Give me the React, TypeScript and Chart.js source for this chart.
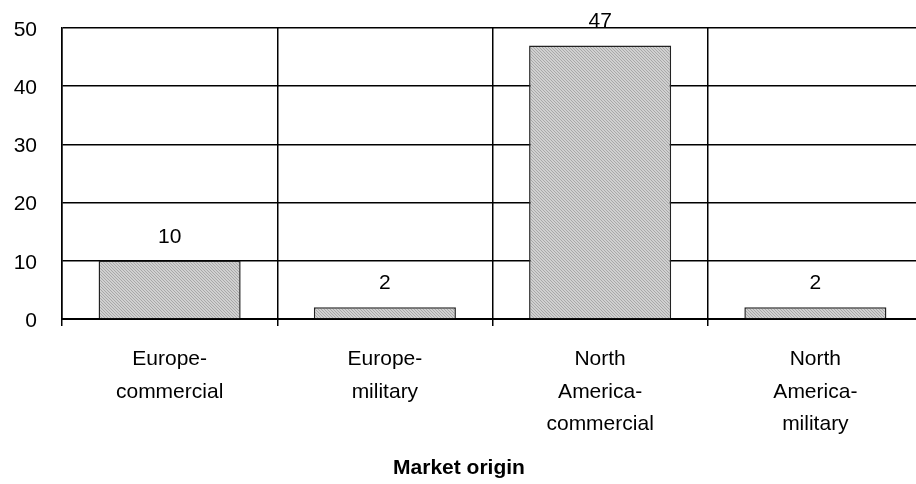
import React, { useEffect, useRef } from "react";
import { Chart, registerables } from "chart.js";

Chart.register(...registerables);

const categories: string[][] = [
  ["Europe-", "commercial"],
  ["Europe-", "military"],
  ["North", "America-", "commercial"],
  ["North", "America-", "military"],
];
const values: number[] = [10, 2, 47, 2];
const yTicks: number[] = [0, 10, 20, 30, 40, 50];
const axisTitle = "Market origin";

const FONT = "'Liberation Sans', Arial, Helvetica, sans-serif";

function makePattern(): CanvasPattern | string {
  const c = document.createElement("canvas");
  c.width = 3;
  c.height = 3;
  const g = c.getContext("2d");
  if (!g) return "#c0c0c0";
  g.fillStyle = "#d0d0d0";
  g.fillRect(0, 0, 3, 3);
  g.fillStyle = "#a8a8a8";
  for (let i = 0; i < 3; i++) {
    g.fillRect(i, i, 1, 1);
  }
  const p = g.createPattern(c, "repeat");
  return p || "#c0c0c0";
}

const valueLabels = {
  id: "valueLabels",
  afterDatasetsDraw(chart: any) {
    const ctx = chart.ctx;
    const meta = chart.getDatasetMeta(0);
    ctx.save();
    ctx.font = `21px ${FONT}`;
    ctx.fillStyle = "#000";
    ctx.textAlign = "center";
    ctx.textBaseline = "middle";
    meta.data.forEach((bar: any, i: number) => {
      ctx.fillText(String(values[i]), bar.x, bar.y - 24);
    });
    ctx.restore();
  },
};

const axisTitlePlugin = {
  id: "axisTitlePlugin",
  afterDraw(chart: any) {
    const ctx = chart.ctx;
    ctx.save();
    ctx.font = `bold 21px ${FONT}`;
    ctx.fillStyle = "#000";
    ctx.textAlign = "center";
    ctx.textBaseline = "middle";
    ctx.fillText(axisTitle, 459, 468);
    ctx.restore();
  },
};

export default function App() {
  const ref = useRef<HTMLCanvasElement>(null);
  useEffect(() => {
    if (!ref.current) return;
    const chart = new Chart(ref.current, {
      type: "bar",
      data: {
        labels: categories,
        datasets: [
          {
            data: values,
            backgroundColor: makePattern() as any,
            borderColor: "#222",
            borderWidth: 1.5,
            barPercentage: 0.66,
            categoryPercentage: 1,
          },
        ],
      },
      options: {
        animation: false,
        responsive: false,
        devicePixelRatio: 1,
        layout: { padding: { top: 28, right: 1, left: 0, bottom: 0 } },
        plugins: {
          legend: { display: false },
          tooltip: { enabled: false },
        },
        scales: {
          x: {
            grid: {
              display: true,
              offset: true,
              color: "#000",
              lineWidth: 1.5,
              drawTicks: true,
              tickLength: 7,
              tickColor: "#000",
              tickWidth: 1.5,
            },
            border: { display: true, color: "#000", width: 2 },
            ticks: {
              color: "#000",
              font: { family: FONT, size: 21, lineHeight: 1.55 },
              padding: 17,
              maxRotation: 0,
              autoSkip: false,
            },
            title: { display: false },
            afterFit: (scale: any) => {
              scale.height = 165;
            },
          },
          y: {
            min: 0,
            max: 50,
            afterBuildTicks: (scale: any) => {
              scale.ticks = yTicks.map((v) => ({ value: v }));
            },
            grid: {
              color: "#000",
              lineWidth: 1.5,
              drawTicks: true,
              tickLength: 22,
              tickColor: "rgba(0,0,0,0)",
            },
            border: { display: true, color: "#000", width: 1.5 },
            ticks: {
              color: "#000",
              font: { family: FONT, size: 21 },
              padding: 3,
              labelOffset: 2,
            },
            afterFit: (scale: any) => {
              scale.width = 62;
            },
          },
        },
      },
      plugins: [valueLabels, axisTitlePlugin],
    });
    return () => chart.destroy();
  }, []);

  return (
    <div
      style={{
        position: "fixed",
        left: 0,
        top: 0,
        width: 916,
        height: 484,
        overflow: "hidden",
        background: "#fff",
      }}
    >
      <canvas
        ref={ref}
        width={924}
        height={484}
        style={{ width: 924, height: 484, display: "block" }}
      />
    </div>
  );
}
